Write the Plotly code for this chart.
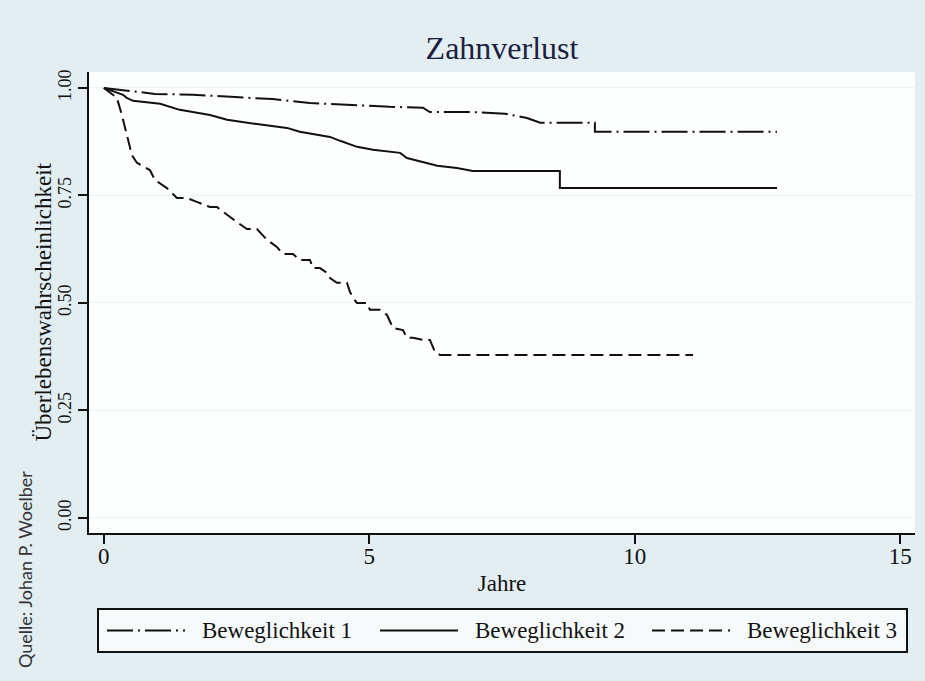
import plotly.graph_objects as go

# ---------------- data ----------------
series_names = ["Beweglichkeit 1", "Beweglichkeit 2", "Beweglichkeit 3"]

# Kaplan-Meier paths (vertices)
t_bew1 = [0.0, 0.55, 0.96, 1.68, 2.43, 3.18, 3.88, 4.54, 5.39, 6.01, 6.14, 6.90, 7.56,
          7.97, 8.22, 9.25, 9.25, 12.68]
s_bew1 = [1.0, 0.991, 0.986, 0.984, 0.979, 0.974, 0.965, 0.961, 0.956, 0.954, 0.944, 0.944, 0.940,
          0.930, 0.919, 0.919, 0.898, 0.898]

t_bew2 = [0.0, 0.36, 0.43, 0.55, 1.06, 1.43, 2.00, 2.32, 2.88, 3.45, 3.69, 4.26, 4.45,
          4.77, 5.07, 5.58, 5.71, 6.01, 6.28, 6.65, 6.95, 8.59, 8.59, 12.68]
s_bew2 = [1.0, 0.984, 0.977, 0.970, 0.963, 0.949, 0.937, 0.926, 0.916, 0.907, 0.898, 0.886, 0.877,
          0.863, 0.856, 0.849, 0.837, 0.828, 0.819, 0.814, 0.807, 0.807, 0.767, 0.767]

t_bew3 = [0.0, 0.245, 0.339, 0.433, 0.528, 0.622, 0.867, 0.961, 1.187, 1.376, 1.564, 1.752,
          1.997, 2.129, 2.318, 2.506, 2.695, 2.883, 3.071, 3.260, 3.373, 3.561, 3.693, 3.882,
          3.938, 4.070, 4.202, 4.259, 4.390, 4.579, 4.635, 4.692, 4.767, 4.956, 5.012, 5.201,
          5.333, 5.446, 5.634, 5.709, 5.822, 6.011, 6.143, 6.237, 6.331, 11.098]
s_bew3 = [1.0, 0.977, 0.937, 0.891, 0.844, 0.826, 0.809, 0.786, 0.767, 0.744, 0.744, 0.735,
          0.723, 0.723, 0.705, 0.688, 0.672, 0.672, 0.647, 0.630, 0.614, 0.614, 0.600, 0.600,
          0.581, 0.581, 0.570, 0.558, 0.547, 0.547, 0.526, 0.512, 0.500, 0.500, 0.484, 0.484,
          0.472, 0.442, 0.437, 0.419, 0.419, 0.414, 0.414, 0.386, 0.379, 0.379]

x_ticks = [0, 5, 10, 15]
x_tick_labels = ["0", "5", "10", "15"]
y_ticks = [0.0, 0.25, 0.5, 0.75, 1.0]
y_tick_labels = ["0.00", "0.25", "0.50", "0.75", "1.00"]

title_text = "Zahnverlust"
x_title = "Jahre"
y_title = "Überlebenswahrscheinlichkeit"
source_text = "Quelle: Johan P. Woelber"

# ---------------- styles ----------------
SERIF = "Liberation Serif, Times New Roman, serif"
dash_styles = ["26px,5px,2px,5px", "solid", "13px,6px"]
times = [t_bew1, t_bew2, t_bew3]
values = [s_bew1, s_bew2, s_bew3]

fig = go.Figure()
for name, t, s, d in zip(series_names, times, values, dash_styles):
    fig.add_trace(go.Scatter(
        x=t, y=s, mode="lines", name=name, line_shape="linear",
        line=dict(color="#111111", width=2, dash=d), showlegend=False))

W, H = 925, 681
L, R, T, B = 89, 10, 72, 148
pw, ph = W - L - R, H - T - B


def px_x(px):
    return (px - L) / pw


def px_y(py):
    return (H - B - py) / ph


fig.update_layout(
    width=W, height=H, autosize=False,
    margin=dict(l=L, r=R, t=T, b=B),
    paper_bgcolor="#e3eef3",
    plot_bgcolor="#fdfefe",
    title=dict(text=title_text, xref="paper", x=0.5, xanchor="center",
               yref="container", y=1 - 48 / H, yanchor="middle",
               font=dict(family=SERIF, size=32, color="#1c2040")),
    font=dict(family=SERIF, color="#111111"),
    xaxis=dict(range=[-0.28, 15.28], tickvals=x_ticks, ticktext=x_tick_labels,
               showline=True, linecolor="#111111", linewidth=2,
               ticks="outside", ticklen=9, tickwidth=1.5, tickcolor="#111111",
               ticklabelstandoff=-8,
               showgrid=False, zeroline=False,
               tickfont=dict(family=SERIF, size=23, color="#111111"),
               title=dict(text=x_title, standoff=7,
                          font=dict(family=SERIF, size=23, color="#111111"))),
    yaxis=dict(range=[-0.035, 1.037], tickvals=y_ticks, ticktext=y_tick_labels,
               showline=True, linecolor="#111111", linewidth=2,
               ticks="outside", ticklen=9, tickwidth=1.5, tickcolor="#111111",
               showgrid=True, gridcolor="#edf3f6", gridwidth=1, zeroline=False,
               tickangle=-90,
               tickfont=dict(family=SERIF, size=18, color="#111111")),
)

# y-axis title (placed close to the rotated tick labels, as in the reference)
fig.add_annotation(text=y_title, xref="paper", yref="paper",
                   x=px_x(43), y=0.5, textangle=-90,
                   xanchor="center", yanchor="middle", showarrow=False,
                   font=dict(family=SERIF, size=23, color="#111111"))

# custom legend box (Stata style, wide line samples)
box_l, box_r, box_t, box_b = 98, 907, 609, 652
fig.add_shape(type="rect", xref="paper", yref="paper",
              x0=px_x(box_l), x1=px_x(box_r), y0=px_y(box_b), y1=px_y(box_t),
              line=dict(color="#111111", width=2), fillcolor="#f7fafb", layer="above")
ymid = px_y((box_t + box_b) / 2)
sample_starts = [107, 380, 652]
sample_len = 78
text_gap = 15
for name, d, x0 in zip(series_names, dash_styles, sample_starts):
    fig.add_shape(type="line", xref="paper", yref="paper",
                  x0=px_x(x0), x1=px_x(x0 + sample_len), y0=ymid, y1=ymid,
                  line=dict(color="#111111", width=2, dash=d), layer="above")
    fig.add_annotation(text=name, xref="paper", yref="paper",
                       x=px_x(x0 + sample_len + text_gap), y=ymid,
                       xanchor="left", yanchor="middle", showarrow=False,
                       font=dict(family=SERIF, size=23, color="#111111"))

# source note
fig.add_annotation(text=source_text, xref="paper", yref="paper",
                   x=px_x(25), y=px_y(570), textangle=-90,
                   xanchor="center", yanchor="middle", showarrow=False,
                   font=dict(family="Lato, Noto Sans, sans-serif", size=18, color="#333333"))

fig.write_html("out.html")
